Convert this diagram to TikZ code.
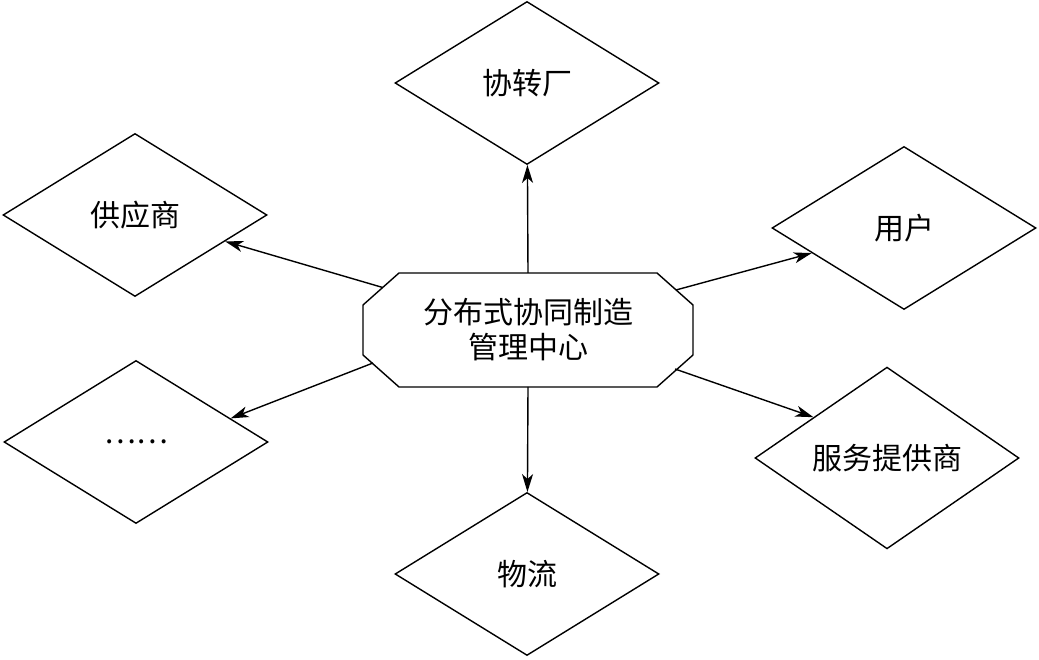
\documentclass[tikz,border=0pt]{standalone}
\usepackage{fontspec}
\usepackage{tikz}
\usetikzlibrary{shapes.geometric,arrows.meta}
\newfontfamily\cjk{Noto Sans CJK SC}

\begin{document}
\begin{tikzpicture}[x=1pt,y=1pt,font=\cjk\fontsize{30}{35}\selectfont,
   >={Stealth[length=18pt,width=11pt,inset=5pt]},
   hb/.style={rectangle,minimum width=330pt,minimum height=114pt,outer sep=0pt,align=center,inner sep=2pt},
   dm/.style={draw,line width=1.4pt,diamond,minimum width=264pt,minimum height=163pt,inner sep=1pt},
   ln/.style={->,line width=1.4pt}]
  \useasboundingbox (0,0) rectangle (1039,660);
  \node[hb] (hub) at (528,330) {分布式协同制造\\管理中心};
  % chamfered outline of the hub
  \draw[line width=1.4pt] ([yshift=25pt]hub.west) -- ([xshift=36pt]hub.north west)
     -- ([xshift=-36pt]hub.north east) -- ([yshift=25pt]hub.east) -- ([yshift=-25pt]hub.east)
     -- ([xshift=-36pt]hub.south east) -- ([xshift=36pt]hub.south west) -- ([yshift=-25pt]hub.west) -- cycle;
  \node[dm] (plant) at (527,577) {协转厂};
  \node[dm] (supp) at (135,445) {供应商};
  \node[dm] (user) at (904,432) {用户};
  \node[dm] (misc) at (136,218) {……};
  \node[dm] (serv) at (887,202) {服务提供商};
  \node[dm] (logi) at (527,86) {物流};
  % start points on the chamfers
  \coordinate (hs) at (382.7,372.5);
  \coordinate (hu) at (676,370);
  \coordinate (hm) at (373,297);
  \coordinate (hv) at (675,291);
  \draw[ln] (hub.north) -- (plant);
  \draw[ln] (hs) -- (supp);
  \draw[ln] (hu) -- (user);
  \draw[ln] (hm) -- (misc.14);
  \draw[ln] (hv) -- (serv.151);
  \draw[ln] (hub.south) -- (logi);
\end{tikzpicture}
\end{document}
